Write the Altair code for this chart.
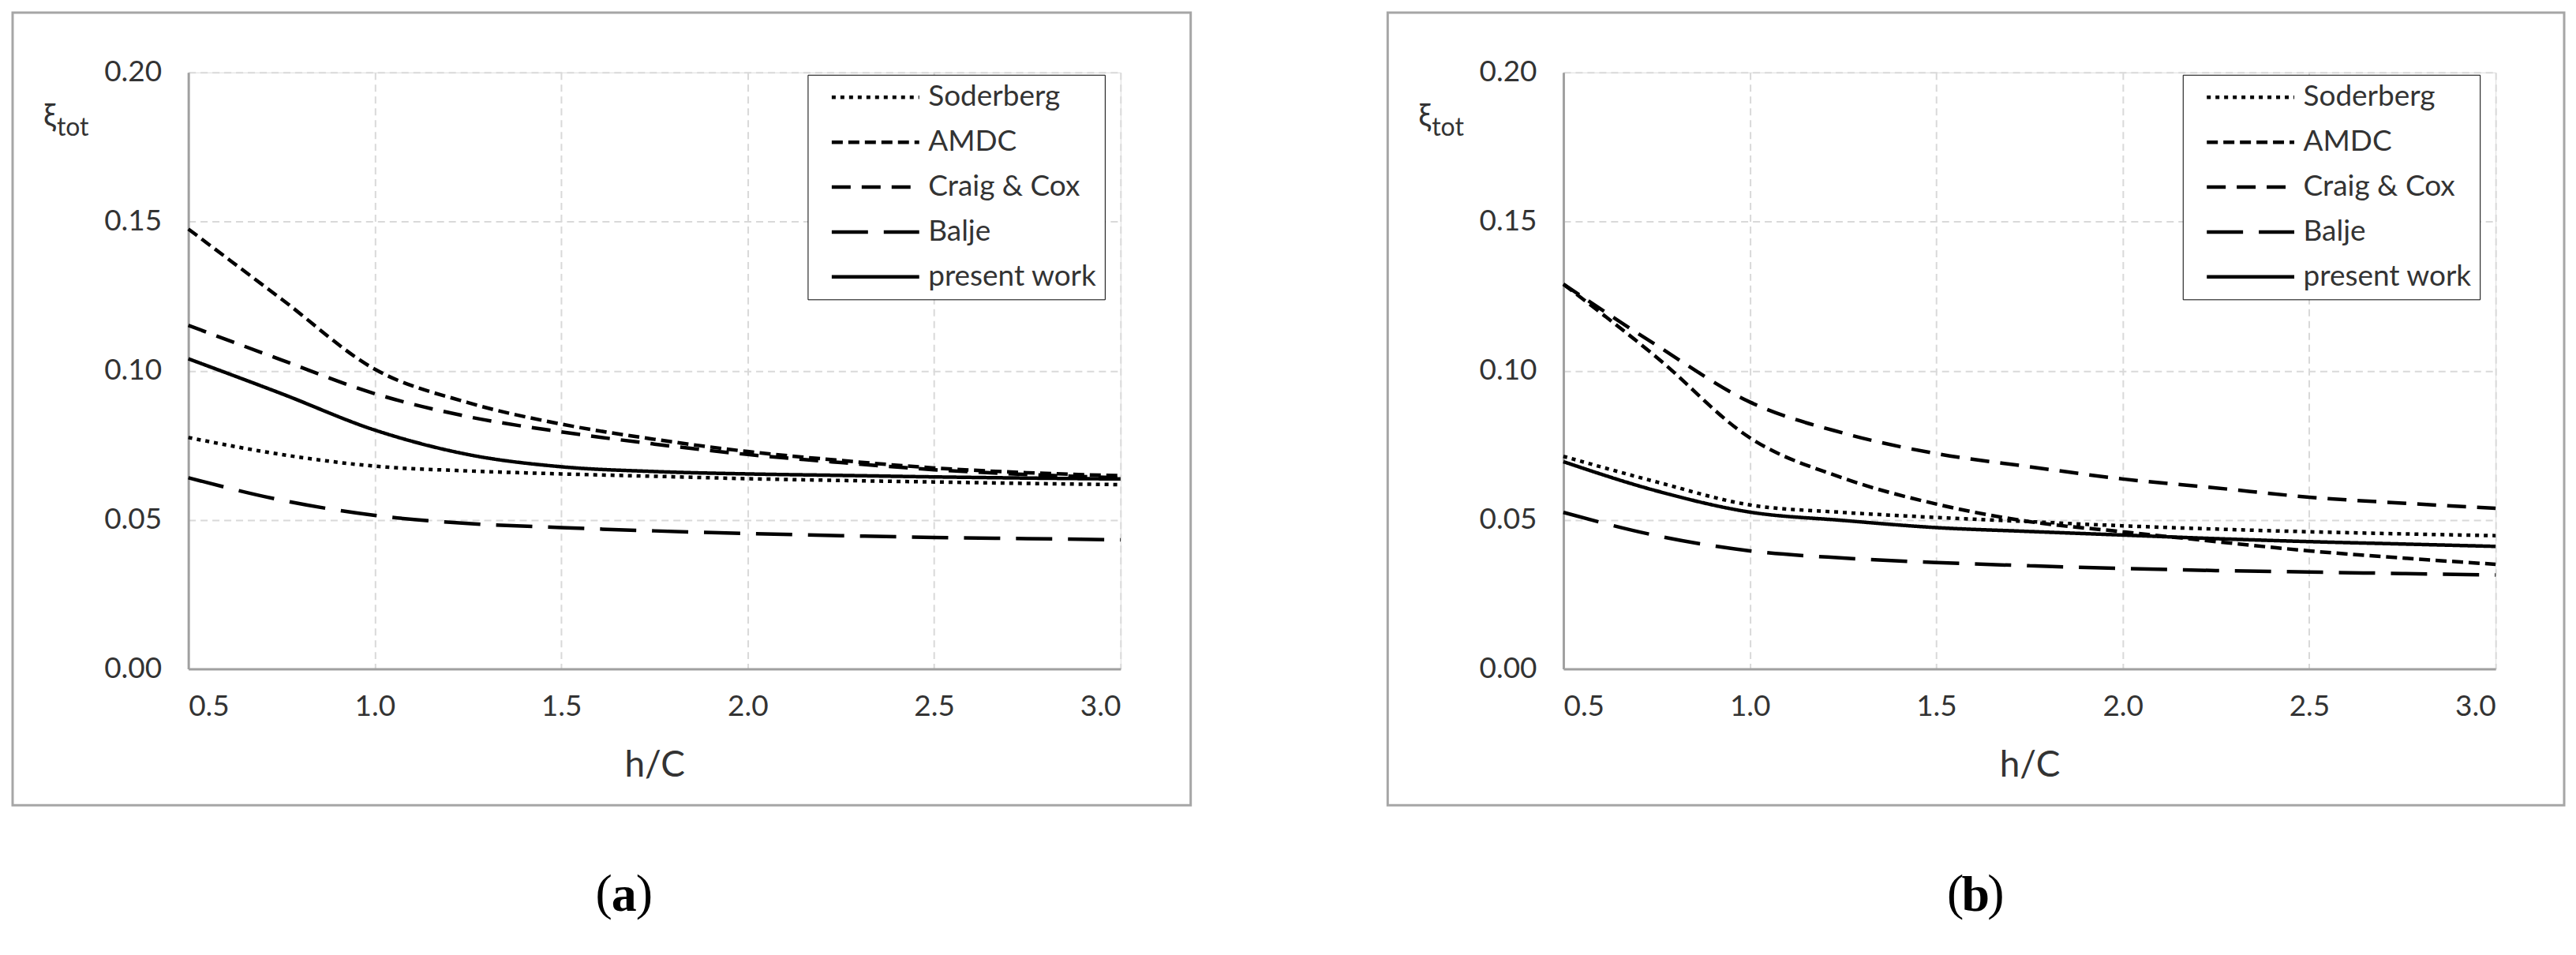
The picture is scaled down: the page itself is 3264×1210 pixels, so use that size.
import altair as alt
import pandas as pd

# ---------------- data ----------------
hc = [0.5, 0.75, 1.0, 1.25, 1.5, 1.75, 2.0, 2.25, 2.5, 2.75, 3.0]
series_names = ["Soderberg", "AMDC", "Craig & Cox", "Balje", "present work"]

# panel (a)
soderberg_a = [0.0776, 0.0719, 0.0680, 0.0664, 0.0654, 0.0646, 0.0638, 0.0632, 0.0627, 0.0622, 0.0618]
amdc_a      = [0.1475, 0.1240, 0.1005, 0.0893, 0.0821, 0.0770, 0.0729, 0.0699, 0.0674, 0.0658, 0.0648]
craig_a     = [0.1152, 0.1036, 0.0923, 0.0846, 0.0795, 0.0754, 0.0719, 0.0692, 0.0668, 0.0652, 0.0641]
balje_a     = [0.0641, 0.0566, 0.0515, 0.0488, 0.0474, 0.0463, 0.0454, 0.0447, 0.0441, 0.0437, 0.0433]
present_a   = [0.1040, 0.0923, 0.0801, 0.0719, 0.0678, 0.0662, 0.0654, 0.0649, 0.0644, 0.0640, 0.0637]

# panel (b)
soderberg_b = [0.0713, 0.0627, 0.0550, 0.0525, 0.0508, 0.0494, 0.0480, 0.0469, 0.0460, 0.0453, 0.0447]
amdc_b      = [0.1290, 0.1045, 0.0775, 0.0640, 0.0553, 0.0494, 0.0460, 0.0427, 0.0396, 0.0372, 0.0351]
craig_b     = [0.1290, 0.1085, 0.0895, 0.0791, 0.0722, 0.0678, 0.0637, 0.0607, 0.0576, 0.0556, 0.0539]
balje_b     = [0.0525, 0.0447, 0.0396, 0.0372, 0.0357, 0.0346, 0.0337, 0.0330, 0.0325, 0.0320, 0.0315]
present_b   = [0.0695, 0.0597, 0.0526, 0.0498, 0.0474, 0.0461, 0.0449, 0.0437, 0.0427, 0.0419, 0.0411]

x_ticks = [0.5, 1.0, 1.5, 2.0, 2.5, 3.0]
y_ticks = [0.0, 0.05, 0.10, 0.15, 0.20]

dash_styles = [[5, 6], [14, 7], [24, 14], [46, 20], [1, 0]]

FONT = "Lato"
TXT = "#333333"
PW, PH = 1183, 757


def make_df(cols):
    rows = []
    for name, vals in zip(series_names, cols):
        for x, y in zip(hc, vals):
            rows.append({"hc": x, "xi": y, "series": name})
    return pd.DataFrame(rows)


def panel(df, letter, cap_x, frame_x2):
    one = pd.DataFrame({"k": [0]})
    frame = alt.Chart(one).mark_rect(
        filled=False, stroke="#a6a6a6", strokeWidth=3
    ).encode(x=alt.value(-223), x2=alt.value(frame_x2), y=alt.value(-76), y2=alt.value(930))

    lines = alt.Chart(df).mark_line(color="black", strokeWidth=4.5, interpolate="monotone").encode(
        x=alt.X("hc:Q",
                scale=alt.Scale(domain=[0.5, 3.0], nice=False, zero=False),
                axis=alt.Axis(values=x_ticks, format=".1f", title="h/C",
                              grid=True, gridColor="#d9d9d9", gridDash=[9, 6], gridWidth=2,
                              domainColor="#a0a0a0", domainWidth=3, ticks=False,
                              labelFont=FONT, labelFontSize=37, labelColor=TXT, labelPadding=30,
                              titleFont=FONT, titleFontSize=46, titleFontWeight="normal",
                              titleColor=TXT, titlePadding=34)),
        y=alt.Y("xi:Q",
                scale=alt.Scale(domain=[0, 0.2], nice=False),
                axis=alt.Axis(values=y_ticks, format=".2f", title=None,
                              grid=True, gridColor="#d9d9d9", gridDash=[9, 6], gridWidth=2,
                              domainColor="#a0a0a0", domainWidth=3, ticks=False,
                              labelFont=FONT, labelFontSize=37, labelColor=TXT, labelPadding=34)),
        strokeDash=alt.StrokeDash(
            "series:N",
            scale=alt.Scale(domain=series_names, range=dash_styles),
            sort=series_names,
            legend=alt.Legend(
                title=None, orient="none", legendX=786, legendY=3,
                strokeColor="black", fillColor="white", padding=10,
                symbolType="stroke", symbolSize=12321, symbolStrokeWidth=4.5,
                symbolStrokeColor="black", symbolOffset=18, clipHeight=37,
                labelFont=FONT, labelFontSize=37, labelColor=TXT, labelOffset=9,
                rowPadding=19, labelLimit=400,
            ),
        ),
        detail="series:N",
    )

    xi = alt.Chart(one).mark_text(
        text="ξ", font=FONT, fontSize=40, color=TXT, align="center", baseline="middle"
    ).encode(x=alt.value(-176), y=alt.value(56))
    tot = alt.Chart(one).mark_text(
        text="tot", font=FONT, fontSize=32, color=TXT, align="left", baseline="middle"
    ).encode(x=alt.value(-167), y=alt.value(70))
    cap_l = alt.Chart(one).mark_text(
        text="(", font="Liberation Serif", fontSize=64, color="black",
        align="right", baseline="middle"
    ).encode(x=alt.value(cap_x - 15), y=alt.value(1043))
    cap_m = alt.Chart(one).mark_text(
        text=letter, font="Liberation Serif", fontSize=64, fontWeight="bold", color="black",
        align="center", baseline="middle"
    ).encode(x=alt.value(cap_x), y=alt.value(1045))
    cap_r = alt.Chart(one).mark_text(
        text=")", font="Liberation Serif", fontSize=64, color="black",
        align="left", baseline="middle"
    ).encode(x=alt.value(cap_x + 15), y=alt.value(1043))

    return alt.layer(frame, lines, xi, tot, cap_l, cap_m, cap_r).properties(width=PW, height=PH)


left = panel(make_df([soderberg_a, amdc_a, craig_a, balje_a, present_a]), "a", 553, 1272)
right = panel(make_df([soderberg_b, amdc_b, craig_b, balje_b, present_b]), "b", 523, 1270)

chart = alt.hconcat(left, right, spacing=246).resolve_legend(
    strokeDash="independent"
).resolve_scale(strokeDash="independent").properties(
    padding={"left": 6, "top": 5, "right": 5, "bottom": 5}
).configure_view(stroke=None).configure_legend(strokeWidth=3).configure(background="white")

chart.save("out.html", embed_options={"renderer": "svg", "actions": False})
